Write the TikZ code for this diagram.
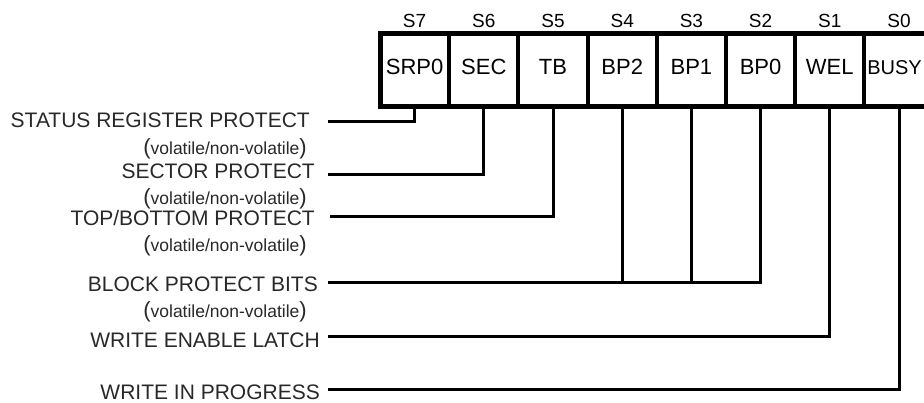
\documentclass[tikz,border=0pt]{standalone}
\usepackage{fontspec}
\setmainfont{Liberation Sans}
\usepackage{tikz}
\usetikzlibrary{positioning}
\definecolor{regtext}{RGB}{40,40,40}
\newcommand{\bigparen}[1]{{\fontsize{22}{22}\selectfont #1}}
\newcommand{\volnote}{\bigparen{(}volatile/non-volatile\bigparen{)}}
\tikzset{
  %% ---- register cells ----
  cell/.style   = {rectangle, draw, line width=4pt, outer sep=0pt,
                   minimum width=69.2pt, minimum height=72.5pt,
                   inner sep=0pt, text height=16pt, text depth=8pt,
                   font=\fontsize{22}{26}\selectfont},
  bitno/.style  = {inner sep=0pt, font=\fontsize{19}{22}\selectfont},
  %% ---- labels ----
  reglbl/.style = {anchor=east, inner sep=0pt, text=regtext,
                   font=\fontsize{21}{24}\selectfont},
  note/.style   = {anchor=east, inner sep=0pt, text=regtext,
                   font=\fontsize{17.5}{20}\selectfont},
  %% ---- leads ----
  lead/.style   = {line width=3pt},
}
\begin{document}
\begin{tikzpicture}[x=1pt, y=-1pt]
\useasboundingbox (0,0) rectangle (924,403);
\clip (0,0) rectangle (924,403);

% status register cells
\node[cell] (c7) at (414.6,70.25) {SRP0};
\node[cell, right=0pt of c7] (c6) {SEC};
\node[cell, right=0pt of c6] (c5) {TB};
\node[cell, right=0pt of c5] (c4) {BP2};
\node[cell, right=0pt of c4] (c3) {BP1};
\node[cell, right=0pt of c3] (c2) {BP0};
\node[cell, right=0pt of c2] (c1) {WEL};
\node[cell, right=0pt of c1] (c0) {\fontsize{20}{24}\selectfont BUSY\hspace*{9pt}};
\draw[line width=5pt] (c7.north west) rectangle (c0.south east);

% bit numbers
\foreach \b in {7,...,0}
  \node[bitno, above=6pt of c\b.north] (s\b) {S\b};

% labels
\node[reglbl] (srp)  at (310,120) {STATUS REGISTER PROTECT};
\node[note]   (srpn) at (307,149) {\volnote};
\node[reglbl] (sec)  at (315,171) {SECTOR PROTECT};
\node[note]   (secn) at (307,199) {\volnote};
\node[reglbl] (tb)   at (315,218) {TOP/BOTTOM PROTECT};
\node[note]   (tbn)  at (307,246) {\volnote};
\node[reglbl] (bp)   at (318,284) {BLOCK PROTECT BITS};
\node[note]   (bpn)  at (307,312) {\volnote};
\node[reglbl] (wel)  at (320,340) {WRITE ENABLE LATCH};
\node[reglbl] (wip)  at (320,392) {WRITE IN PROGRESS};

% line ends next to the labels
\coordinate (srpend) at (328,122);
\coordinate (secend) at (328,175);
\coordinate (tbend)  at (330,217);
\coordinate (bpend)  at (328,283);
\coordinate (welend) at (328,337);
\coordinate (wipend) at (328,389);

\draw[lead] (c7.south) |- (srpend);
\draw[lead] (c6.south) |- (secend);
\draw[lead] (c5.south) |- (tbend);
\draw[lead] (c2.south) |- (bpend);
\draw[lead] (c4.south) -- (c4.south |- bpend);
\draw[lead] (c3.south) -- (c3.south |- bpend);
\draw[lead] (c1.south) |- (welend);
\draw[lead] (c0.south) |- (wipend);
\end{tikzpicture}
\end{document}
